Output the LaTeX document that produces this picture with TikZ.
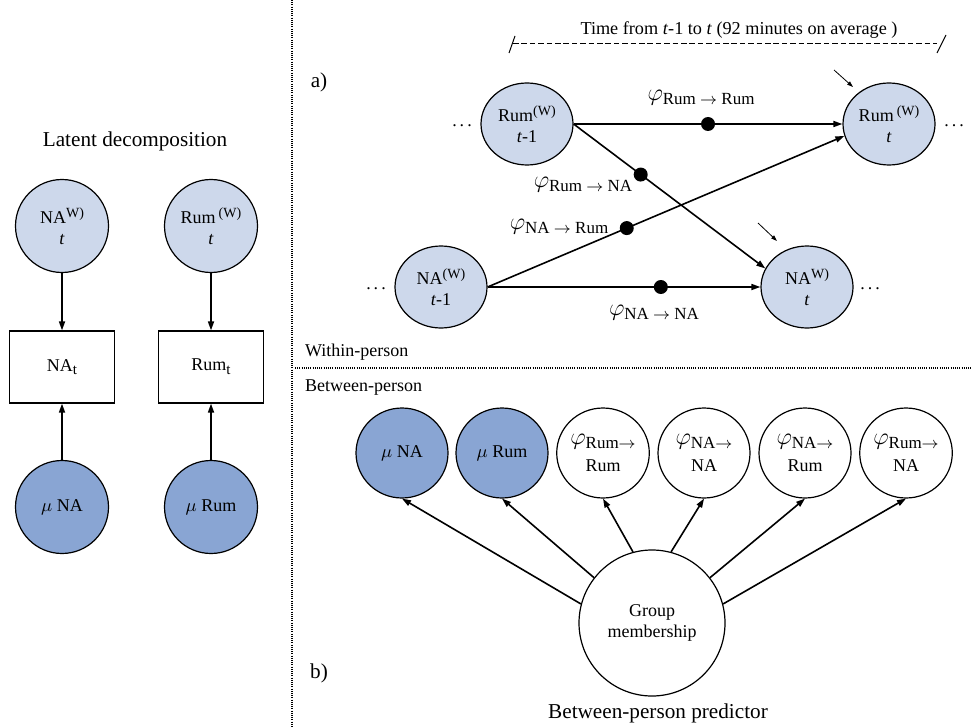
\documentclass[tikz,border=0pt]{standalone}
\usepackage{amsmath}
\usepackage{fontspec}
\setmainfont{Liberation Serif}
\usetikzlibrary{arrows.meta,shapes.geometric}
\definecolor{latlight}{RGB}{205,216,235}
\definecolor{latdark}{RGB}{137,165,211}
% raised (W) and lowered subscripts in text size
\newcommand\supW[1]{\raisebox{0.75ex}{\fontsize{7}{8}\selectfont #1}}
\newcommand\subT[1]{\raisebox{-0.45ex}{\fontsize{7.5}{8}\selectfont #1}}
\newcommand\phiof[1]{{\fontsize{11.5}{12}\selectfont$\varphi$}\raisebox{-0.5ex}{\fontsize{8.5}{9}\selectfont #1}}

\begin{document}
\begin{tikzpicture}[x=0.5pt, y=-0.5pt, every node/.style={font=\fontsize{9}{10.5}\selectfont},
	latent/.style={ellipse, draw, fill=latlight, line width=0.6pt, minimum width=46pt, minimum height=41pt, inner sep=0pt, align=center},
	leftlat/.style={latent, minimum width=46.5pt, minimum height=46.5pt},
	mean/.style={ellipse, draw, fill=latdark, line width=0.6pt, minimum width=46pt, minimum height=45pt, inner sep=0pt, align=center},
	coefnode/.style={ellipse, draw, fill=white, line width=0.6pt, minimum width=46pt, minimum height=45pt, inner sep=0pt, align=center},
	obs/.style={rectangle, draw, line width=0.6pt, minimum width=52.5pt, minimum height=36pt},
	path/.style={-{Triangle[length=4.5pt,width=3pt]}, line width=0.8pt},
	coef/.style={circle, fill=black, inner sep=0pt, minimum size=7pt},
	big/.style={font=\fontsize{10.6}{12}\selectfont},
	sep/.style={line width=0.8pt, dash pattern=on 0.5pt off 0.6pt}]
	\useasboundingbox (0,0) rectangle (972,727);
	% separators
	\draw[sep] (292,0) -- (292,727);
	\draw[sep] (295,368) -- (972,368);
	% left panel: latent decomposition
	\node[big] (title) at (135,141) {Latent decomposition};
	\node[leftlat] (naW) at (62,226) {NA\supW{W)}\\\textit{t}};
	\node[leftlat] (rumW) at (211,226) {Rum\,\supW{(W)}\\\textit{t}};
	\node[obs] (naObs) at (62,367) {NA\subT{t}};
	\node[obs] (rumObs) at (211,367) {Rum\subT{t}};
	\node[mean, minimum width=46.5pt, minimum height=46.5pt] (muNAl) at (62,507) {$\mu$ NA};
	\node[mean, minimum width=46.5pt, minimum height=46.5pt] (muRuml) at (211,507) {$\mu$ Rum};
	\draw[path] (naW) -- (naObs);
	\draw[path] (rumW) -- (rumObs);
	\draw[path] (muNAl) -- (naObs);
	\draw[path] (muRuml) -- (rumObs);
	% a) within-person
	\node[big, font=\fontsize{9.1}{11}\selectfont] (time) at (739,30) {Time from \textit{t}-1 to \textit{t} (92 minutes on average )};
	\draw[line width=0.5pt, dash pattern=on 2.8pt off 1.4pt] (513,44) -- (937,44);
	\draw[line width=0.5pt] (509,53) -- (515,36);
	\draw[line width=0.5pt] (937,53) -- (946,35);
	\node[big] (a) at (319,82) {a)};
	\node[latent] (rumA) at (527,124) {Rum\supW{(W)}\\\textit{t}-1};
	\node[latent] (rumB) at (889,124) {Rum\,\supW{(W)}\\\textit{t}};
	\node[latent] (naA) at (441,287) {NA\supW{(W)}\\\textit{t}-1};
	\node[latent] (naB) at (807,287) {NA\supW{W)}\\\textit{t}};
	\node (dotsA) at (462,126) {.\,.\,.};
	\node (dotsB) at (954,126) {.\,.\,.};
	\node (dotsC) at (376,289) {.\,.\,.};
	\node (dotsD) at (870,289) {.\,.\,.};
	\draw[path] (rumA.east) -- node[coef, pos=0.5] (dRR) {} (rumB.west);
	\draw[path] (rumA.east) -- node[coef, pos=0.35] (dRN) {} (naB.156);
	\draw[path] (naA.east) -- node[coef, pos=0.39] (dNR) {} (rumB.195);
	\draw[path] (naA.east) -- node[coef, pos=0.635] (dNN) {} (naB.west);
	\node (lRR) at (701,98) {\phiof{Rum $\rightarrow$ Rum}};
	\node (lRN) at (583,185) {\phiof{Rum $\rightarrow$ NA}};
	\node (lNR) at (559,227) {\phiof{NA $\rightarrow$ Rum}};
	\node (lNN) at (654,313) {\phiof{NA $\rightarrow$ NA}};
	\draw[-{Triangle[length=3pt,width=2pt]}, line width=0.4pt] ([shift={(-55,-54)}]rumB.center) -- ([shift={(-36,-37)}]rumB.center);
	\draw[-{Triangle[length=3pt,width=2pt]}, line width=0.4pt] ([shift={(-49,-64)}]naB.center) -- ([shift={(-30,-46)}]naB.center);
	\node[anchor=west] (within) at (298,352) {Within-person};
	% b) between-person
	\node[anchor=west] (between) at (298,388) {Between-person};
	\node[coefnode, minimum size=73pt] (grp) at (652,623) {Group\\membership};
	\foreach \nm/\xx/\lab/\sty/\ang in {muNA/402/{$\mu$ NA}/mean/165, muRum/502/{$\mu$ Rum}/mean/142,
		pRR/603/{\phiof{Rum$\rightarrow$}\\[3pt]Rum}/coefnode/105, pNN/704/{\phiof{NA$\rightarrow$}\\[3pt]NA}/coefnode/75,
		pNR/805/{\phiof{NA$\rightarrow$}\\[3pt]Rum}/coefnode/38, pRN/906/{\phiof{Rum$\rightarrow$}\\[3pt]NA}/coefnode/15}
	{
		\node[\sty] (\nm) at (\xx,453) {\lab};
		\draw[path] (grp.\ang) -- (\nm.south);
	}
	\node[big] (b) at (319,673) {b)};
	\node[big] (pred) at (658,713) {Between-person predictor};
\end{tikzpicture}
\end{document}
